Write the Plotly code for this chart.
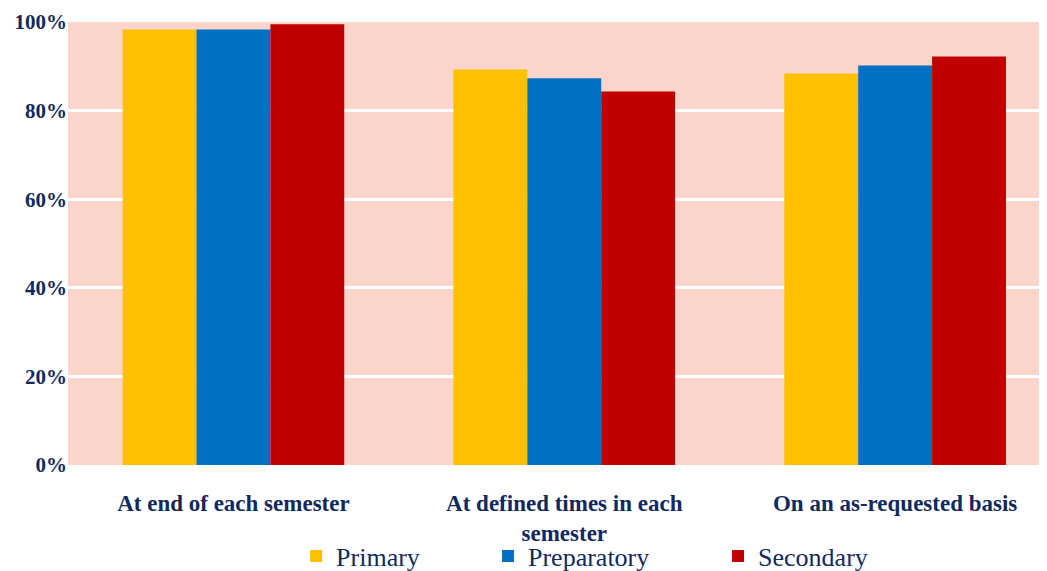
import plotly.graph_objects as go

categories = ["At end of each semester", "At defined times in each<br>semester", "On an as-requested basis"]
primary = [98.3, 89.3, 88.4]
preparatory = [98.3, 87.3, 90.2]
secondary = [99.5, 84.3, 92.2]
series_names = ["Primary", "Preparatory", "Secondary"]
series_colors = ["#FFC000", "#0070C0", "#C00000"]
y_ticks = [0, 20, 40, 60, 80, 100]
y_tick_labels = ["0%", "20%", "40%", "60%", "80%", "100%"]

navy = "#12295e"
serif = "Times New Roman, Liberation Serif, serif"
legend_ids = ["legend", "legend2", "legend3"]
legend_x = [0.233, 0.429, 0.664]

fig = go.Figure()
for name, vals, col, lid in zip(series_names, [primary, preparatory, secondary], series_colors, legend_ids):
    fig.add_trace(go.Bar(x=list(range(len(categories))), y=vals, name=name,
                         legend=lid, showlegend=True,
                         marker=dict(color=col, line=dict(width=0))))

legend_style = dict(orientation="h", xanchor="left", yref="container", y=0.040, yanchor="middle",
                    font=dict(size=26, family=serif, color=navy),
                    bgcolor="rgba(0,0,0,0)", itemclick=False)

fig.update_layout(
    width=1047, height=571, showlegend=True,
    margin=dict(l=60, r=8, t=14, b=114),
    paper_bgcolor="white", plot_bgcolor="#FBD5CB",
    barmode="group", bargap=0.33, bargroupgap=0,
    font=dict(family=serif, color=navy),
    legend=dict(x=legend_x[0], **legend_style),
    legend2=dict(x=legend_x[1], **legend_style),
    legend3=dict(x=legend_x[2], **legend_style),
    xaxis=dict(tickmode="array", tickvals=list(range(len(categories))),
               ticktext=[f"<b>{c}</b>" for c in categories],
               range=[-0.5, 2.459], showgrid=False, zeroline=False, ticks="",
               tickfont=dict(size=23, family=serif, color=navy),
               ticklabelstandoff=22, automargin=False),
    yaxis=dict(range=[0, 100], tickmode="array", tickvals=y_ticks,
               ticktext=[f"<b>{t}</b>" for t in y_tick_labels],
               showgrid=True, gridcolor="white", gridwidth=3, zeroline=False, ticks="",
               tickfont=dict(size=21, family=serif, color=navy),
               ticklabelstandoff=0, automargin=False),
)
fig.write_html("out.html")
